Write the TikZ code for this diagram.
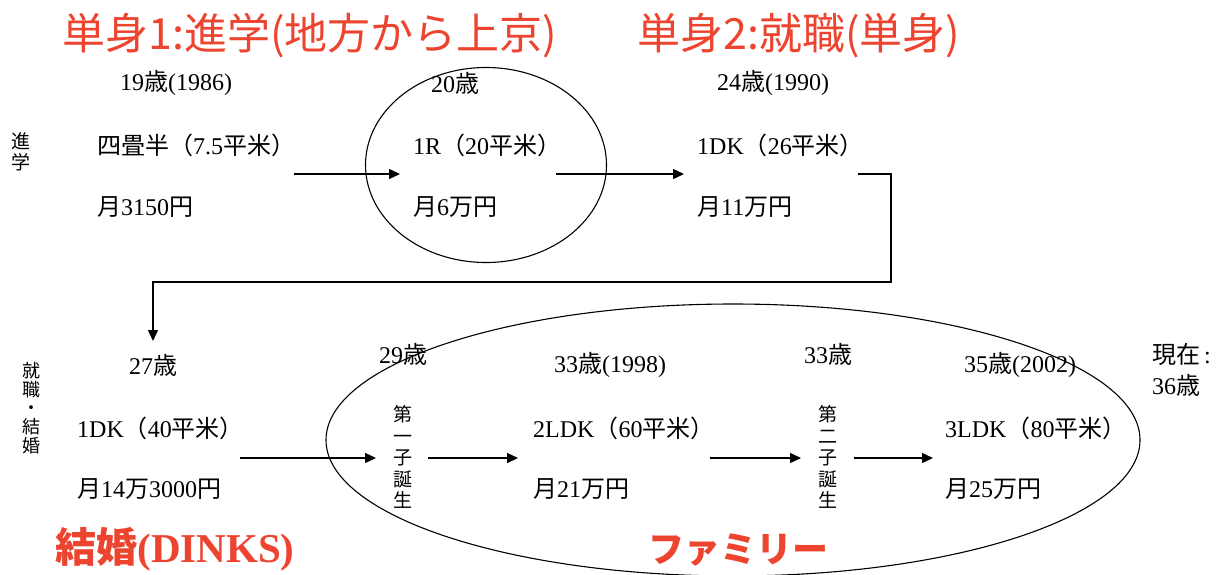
\documentclass[tikz,border=0pt]{standalone}
\usepackage{fontspec}
\setmainfont{Liberation Serif}
\newfontfamily\cjk{Noto Sans CJK JP}
\usetikzlibrary{arrows.meta,shapes.geometric}
\definecolor{tred}{RGB}{237,68,48}
\newcommand{\J}[1]{{\cjk #1}}
\begin{document}
\begin{tikzpicture}[x=1pt,y=-1pt,
  base/.style={inner sep=0pt, font=\fontsize{24}{28}\selectfont},
  age/.style={base, anchor=center},
  lt/.style={base, anchor=west},
  vert/.style={inner sep=0pt, align=center, font=\fontsize{19}{21.5}\selectfont\cjk},
  vlab/.style={inner sep=0pt, align=center, font=\fontsize{19}{21}\selectfont\cjk},
  title/.style={inner sep=0pt, text=tred, font=\fontsize{43}{48}\selectfont\cjk},
  conn/.style={line width=1.4pt, -{Triangle[length=11pt,width=10pt]}},
  ring/.style={draw, ellipse, line width=1.1pt, inner sep=0pt}]
\useasboundingbox (0,0) rectangle (1217,574);
\fill[white] (0,0) rectangle (1217,574);

% titles
\node[title] (t1) at (310,36) {単身1:進学(地方から上京)};
\node[title] (t2) at (799,36) {単身2:就職(単身)};
\node[inner sep=0pt, text=tred, font=\fontsize{41}{46}\selectfont\rmfamily\bfseries] (t3) at (175,549) {{\cjk\bfseries 結婚}(DINKS)};
\node[inner sep=0pt, text=tred, font=\fontsize{36}{40}\selectfont\cjk\bfseries] (t4) at (738,550) {ファミリー};

% side labels
\node[vlab] (s1) at (21,152) {進\\学};
\node[vlab, font=\fontsize{18}{18.8}\selectfont\cjk] (s2) at (31,408) {就\\職\\・\\結\\婚};

% row 1
\node[age] (a19) at (176,83) {19\J{歳}(1986)};
\node[age] (a20) at (455,83) {20\J{歳}};
\node[age] (a24) at (773,83) {24\J{歳}(1990)};
\node[lt] (r1) at (97,145) {\J{四畳半（}7.5\J{平米）}};
\node[lt] (r2) at (413,145) {1R\J{（}20\J{平米）}};
\node[lt] (r3) at (697,145) {1DK\J{（}26\J{平米）}};
\node[lt] (m1) at (97,207) {\J{月}3150\J{円}};
\node[lt] (m2) at (413,207) {\J{月}6\J{万円}};
\node[lt] (m3) at (697,207) {\J{月}11\J{万円}};

\node[ring, minimum width=241pt, minimum height=195pt] (c1) at (486,165) {};

\coordinate (p1) at (294,174);
\coordinate (p2) at (400,174);
\coordinate (p3) at (556,174);
\coordinate (p4) at (684,174);
\coordinate (e1) at (858,174);
\coordinate (e2) at (891,282);
\coordinate (e3) at (153,341);
\draw[conn] (p1) -- (p2);
\draw[conn] (p3) -- (p4);
\draw[conn] (e1) -| (e2) -| (e3);

% row 2
\node[age] (a27) at (153,365) {27\J{歳}};
\node[age] (a29) at (403,354) {29\J{歳}};
\node[age] (a33a) at (610,365) {33\J{歳}(1998)};
\node[age] (a33b) at (828,354) {33\J{歳}};
\node[age] (a35) at (1020,365) {35\J{歳}(2002)};
\node[base, anchor=west] (now1) at (1152,354) {\J{現在}\,:};
\node[base, anchor=west] (now2) at (1152,385) {36\J{歳}};

\node[lt] (r4) at (77,428) {1DK\J{（}40\J{平米）}};
\node[lt] (r5) at (533,428) {2LDK\J{（}60\J{平米）}};
\node[lt] (r6) at (945,428) {3LDK\J{（}80\J{平米）}};
\node[lt] (m4) at (77,489) {\J{月}14\J{万}3000\J{円}};
\node[lt] (m5) at (533,489) {\J{月}21\J{万円}};
\node[lt] (m6) at (945,489) {\J{月}25\J{万円}};

\node[vert] (b1) at (403,457) {第\\一\\子\\誕\\生};
\node[vert] (b2) at (828,457) {第\\二\\子\\誕\\生};

\node[ring, minimum width=814pt, minimum height=272pt] (c2) at (733,440) {};

\coordinate (q1) at (240,458);
\coordinate (q2) at (376,458);
\coordinate (q3) at (428,458);
\coordinate (q4) at (518,458);
\coordinate (q5) at (710,458);
\coordinate (q6) at (801,458);
\coordinate (q7) at (854,458);
\coordinate (q8) at (933,458);
\draw[conn] (q1) -- (q2);
\draw[conn] (q3) -- (q4);
\draw[conn] (q5) -- (q6);
\draw[conn] (q7) -- (q8);
\end{tikzpicture}
\end{document}
